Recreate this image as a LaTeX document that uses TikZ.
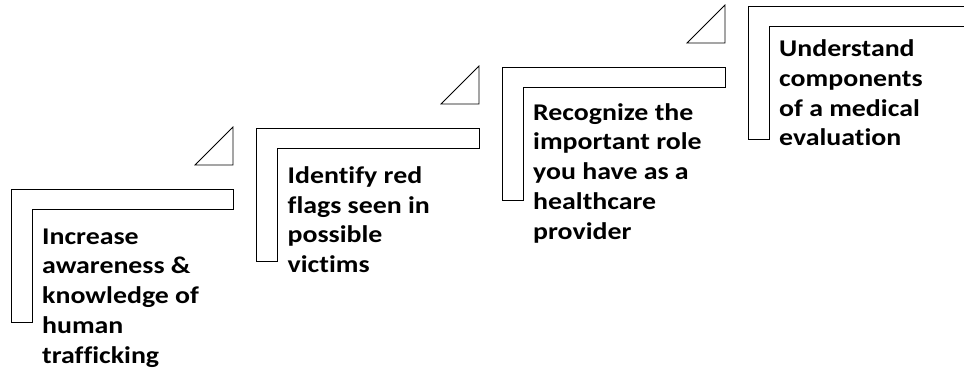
\documentclass[tikz,border=0pt]{standalone}
\usepackage{fontspec}
\setmainfont{Carlito}[FakeStretch=1.16, Ligatures={NoCommon}]
\tikzset{
  stepshape/.style={draw=black, line width=0.8pt, fill=white, line join=miter},
  wedge/.style={draw=black, line width=0.8pt, fill=white},
  steptext/.style={anchor=base west, align=left, inner sep=0pt,
    font=\fontsize{24}{29.7}\selectfont\bfseries, text=black}
}
\begin{document}
\begin{tikzpicture}[x=1pt,y=-1pt]
\useasboundingbox (0,0) rectangle (964,377);
% step L-shapes: left x, top y, right x
\foreach \lx/\ty/\rx in {11/189/233, 256.5/128/479, 502/67/725, 748/6/990}{
  \draw[stepshape] (\lx,\ty) -- (\rx,\ty) -- (\rx,\ty+20) -- (\lx+21,\ty+20)
    -- (\lx+21,\ty+133) -- (\lx,\ty+133) -- cycle;
}
% triangles
\foreach \rx/\by in {233/165, 479/104, 725/43}{
  \draw[wedge] (\rx-38,\by) -- (\rx,\by) -- (\rx,\by-38) -- cycle;
}
% anchors at the baseline of the last line
\node[steptext] (s1) at (42,363) {Increase\\awareness \&\\knowledge of\\human\\trafficking};
\node[steptext] (s2) at (287.5,272.5) {Identify red\\flags seen in\\possible\\victims};
\node[steptext] (s3) at (533,239) {Recognize the\\important role\\you have as a\\healthcare\\provider};
\node[steptext] (s4) at (779,146) {Understand\\components\\of a medical\\evaluation};
\end{tikzpicture}
\end{document}
